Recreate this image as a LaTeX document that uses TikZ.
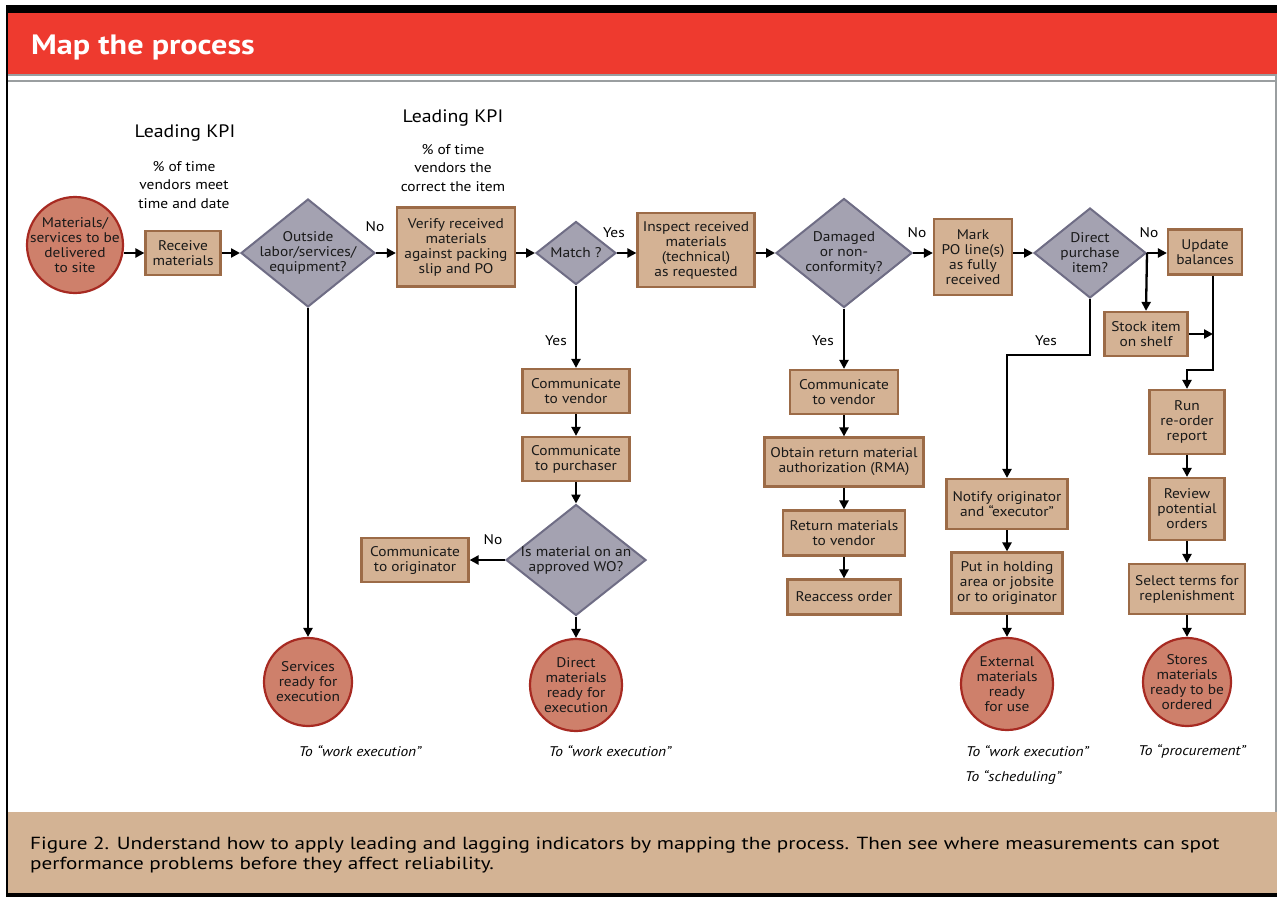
\documentclass[tikz,border=0pt]{standalone}
\usepackage{fontspec}
\setmainfont{PT Sans}[FakeStretch=1.1]
\newfontfamily\capfont{PT Sans}[FakeStretch=1.21]
\newfontfamily\titlefont{PT Sans}[FakeStretch=1.15]
\usetikzlibrary{shapes.geometric,arrows.meta}
\definecolor{hdrred}{HTML}{EE3A2F}
\definecolor{boxfill}{HTML}{D4B294}
\definecolor{boxline}{HTML}{9C6B47}
\definecolor{diafill}{HTML}{A4A2B1}
\definecolor{dialine}{HTML}{6F6D85}
\definecolor{circfill}{HTML}{CE806B}
\definecolor{circline}{HTML}{A72A22}
\definecolor{captan}{HTML}{D3B394}
\definecolor{frgrey}{HTML}{9A9EA0}
\tikzset{
  txt/.style={font=\fontsize{14}{15}\selectfont, align=center, text=black!90},
  box/.style={txt, draw=boxline, fill=boxfill, line width=2.2pt, inner sep=0pt},
  dia/.style={txt, diamond, draw=dialine, fill=diafill, line width=2pt, inner sep=-18pt},
  endc/.style={txt, circle, draw=circline, fill=circfill, line width=2.2pt, inner sep=-14pt},
  lbl/.style={font=\fontsize{14}{15}\selectfont, inner sep=0pt},
  kpih/.style={font=\fontsize{18}{20}\selectfont, inner sep=0pt},
  kpit/.style={font=\fontsize{14}{18.5}\selectfont, align=center, inner sep=0pt},
  tolbl/.style={font=\itshape\fontsize{14}{15}\selectfont, inner sep=0pt},
  conn/.style={line width=2.3pt, draw=black},
  arr/.style={conn, -{Triangle[length=9pt,width=9pt]}}
}
\begin{document}
\begin{tikzpicture}[x=1pt,y=-1pt]
\useasboundingbox (0,0) rectangle (1277,897);
% frame
\fill[white] (0,0) rectangle (1277,897);
\fill[black] (6,5) rectangle (1277,13);
\fill[hdrred] (6,13) rectangle (1277,74);
\draw[frgrey, line width=1.5pt] (6,75) -- (1277,75);
\draw[frgrey, line width=2pt] (6,81) -- (1277,81);
\fill[captan] (6,812) rectangle (1277,893);
\fill[black] (6,893) rectangle (1277,897);
\draw[black, line width=2pt] (7,5) -- (7,897);
\draw[frgrey, line width=1.5pt] (1276,75) -- (1276,812);
\node[anchor=base west, inner sep=0pt, text=white, font=\titlefont\bfseries\fontsize{28}{30}\selectfont] (title) at (31,54) {Map the process};
\node[anchor=north west, inner sep=0pt, align=left, font=\capfont\fontsize{17.5}{19.5}\selectfont] (cap) at (30,837) {Figure 2. Understand how to apply leading and lagging indicators by mapping the process. Then see where measurements can spot\\performance problems before they affect reliability.};

% KPI texts
\node[kpih] (kpi1) at (185,133) {Leading KPI};
\node[kpit] (kpi1t) at (184,185) {\% of time\\vendors meet\\time and date};
\node[kpih] (kpi2) at (453,118) {Leading KPI};
\node[kpit] (kpi2t) at (453,168) {\% of time\\vendors the\\correct the item};

% nodes
\node[endc, minimum size=96] (start) at (75,245) {Materials/\\services to be\\delivered\\to site};
\node[box, minimum width=75, minimum height=44] (recv) at (183,253) {Receive\\materials};
\node[dia, minimum width=134, minimum height=108] (d1) at (308,253) {Outside\\labor/services/\\equipment?};
\node[box, minimum width=118, minimum height=79] (verify) at (456,247) {Verify received\\materials\\against packing\\slip and PO};
\node[dia, minimum width=80, minimum height=63] (match) at (576,253) {Match ?};
\node[box, minimum width=117, minimum height=74] (inspect) at (696,250) {Inspect received\\materials\\(technical)\\as requested};
\node[dia, minimum width=136, minimum height=109] (d2) at (844,253) {Damaged\\or non-\\conformity?};
\node[box, minimum width=78, minimum height=76] (mark) at (973,257) {Mark\\PO line(s)\\as fully\\received};
\node[dia, minimum width=112, minimum height=90] (d3) at (1090,253) {Direct\\purchase\\item?};
\node[box, minimum width=74, minimum height=45] (update) at (1205,252) {Update\\balances};
\node[box, minimum width=83, minimum height=44] (stock) at (1146,334) {Stock item\\on shelf};
\node[box, minimum width=75, minimum height=64] (run) at (1187,422) {Run\\re-order\\report};
\node[box, minimum width=75, minimum height=62] (review) at (1187,509) {Review\\potential\\orders};
\node[box, minimum width=116, minimum height=50] (select) at (1187,589) {Select terms for\\replenishment};
\node[endc, minimum size=88] (stores) at (1187,682) {Stores\\materials\\ready to be\\ordered};
\node[box, minimum width=121, minimum height=50] (notify) at (1007,504) {Notify originator\\and “executor”};
\node[box, minimum width=111, minimum height=61] (put) at (1007,583) {Put in holding\\area or jobsite\\or to originator};
\node[endc, minimum size=92] (external) at (1007,684) {External\\materials\\ready\\for use};
\node[box, minimum width=108, minimum height=44] (comm2) at (844,392) {Communicate\\to vendor};
\node[box, minimum width=159, minimum height=49] (rma) at (844,462) {Obtain return material\\authorization (RMA)};
\node[box, minimum width=122, minimum height=45] (ret) at (844,533) {Return materials\\to vendor};
\node[box, minimum width=113, minimum height=35] (reacc) at (844,597) {Reaccess order};
\node[box, minimum width=107, minimum height=44] (comm1) at (576,391) {Communicate\\to vendor};
\node[box, minimum width=107, minimum height=44] (purch) at (576,459) {Communicate\\to purchaser};
\node[dia, minimum width=140, minimum height=111] (d4) at (576,560) {Is material on an\\approved WO?};
\node[box, minimum width=107, minimum height=44] (orig) at (415,560) {Communicate\\to originator};
\node[endc, minimum size=92] (direct) at (576,685) {Direct\\materials\\ready for\\execution};
\node[endc, minimum size=88] (services) at (308,682) {Services\\ready for\\execution};

% helper coordinates
\coordinate (jx) at (1213,370);
\coordinate (yb) at (1007,355);

% connectors
\draw[arr] (start.east |- recv) -- (recv.west);
\draw[arr] (recv.east) -- (d1.west);
\draw[arr] (d1.east) -- (d1.east -| verify.west);
\draw[arr] (verify.east |- match) -- (match.west);
\draw[arr] (match.east) -- (match.east -| inspect.west);
\draw[arr] (inspect.east |- d2) -- (d2.west);
\draw[arr] (d2.east) -- (d2.east -| mark.west);
\draw[arr] (mark.east |- d3) -- (d3.west);
\draw[arr] (d3.east) -- (d3.east -| update.west);
\draw[arr] (d3.east) -- (stock.north);
\draw[arr] (stock.east) -- (stock.east -| jx);
\draw[arr] (jx |- update.south) -- (jx) -| (run.north);
\draw[arr] (run) -- (review);
\draw[arr] (review) -- (select);
\draw[arr] (select) -- (stores);
\draw[arr] (d3.south) -- (d3.south |- yb) -| (notify.north);
\draw[arr] (notify) -- (put);
\draw[arr] (put) -- (external);
\draw[arr] (d2.south) -- (comm2.north);
\draw[arr] (comm2) -- (rma);
\draw[arr] (rma) -- (ret);
\draw[arr] (ret) -- (reacc);
\draw[arr] (match.south) -- (comm1.north);
\draw[arr] (comm1) -- (purch);
\draw[arr] (purch) -- (d4.north);
\draw[arr] (d4.west) -- (orig.east);
\draw[arr] (d4.south) -- (direct.north);
\draw[arr] (d1.south) -- (services.north);

% labels
\node[lbl] (l1) at (375,227) {No};
\node[lbl] (l2) at (614,233) {Yes};
\node[lbl] (l3) at (917,233) {No};
\node[lbl] (l4) at (1149,233) {No};
\node[lbl] (l5) at (556,341) {Yes};
\node[lbl] (l6) at (823,341) {Yes};
\node[lbl] (l7) at (1046,341) {Yes};
\node[lbl] (l8) at (493,540) {No};

\node[tolbl] (t1) at (360,751) {To “work execution”};
\node[tolbl] (t2) at (610,751) {To “work execution”};
\node[tolbl, anchor=west] (t3) at (966,751) {To “work execution”};
\node[tolbl, anchor=west] (t4) at (965,778) {To “scheduling”};
\node[tolbl] (t5) at (1192,751) {To “procurement”};
\end{tikzpicture}
\end{document}
